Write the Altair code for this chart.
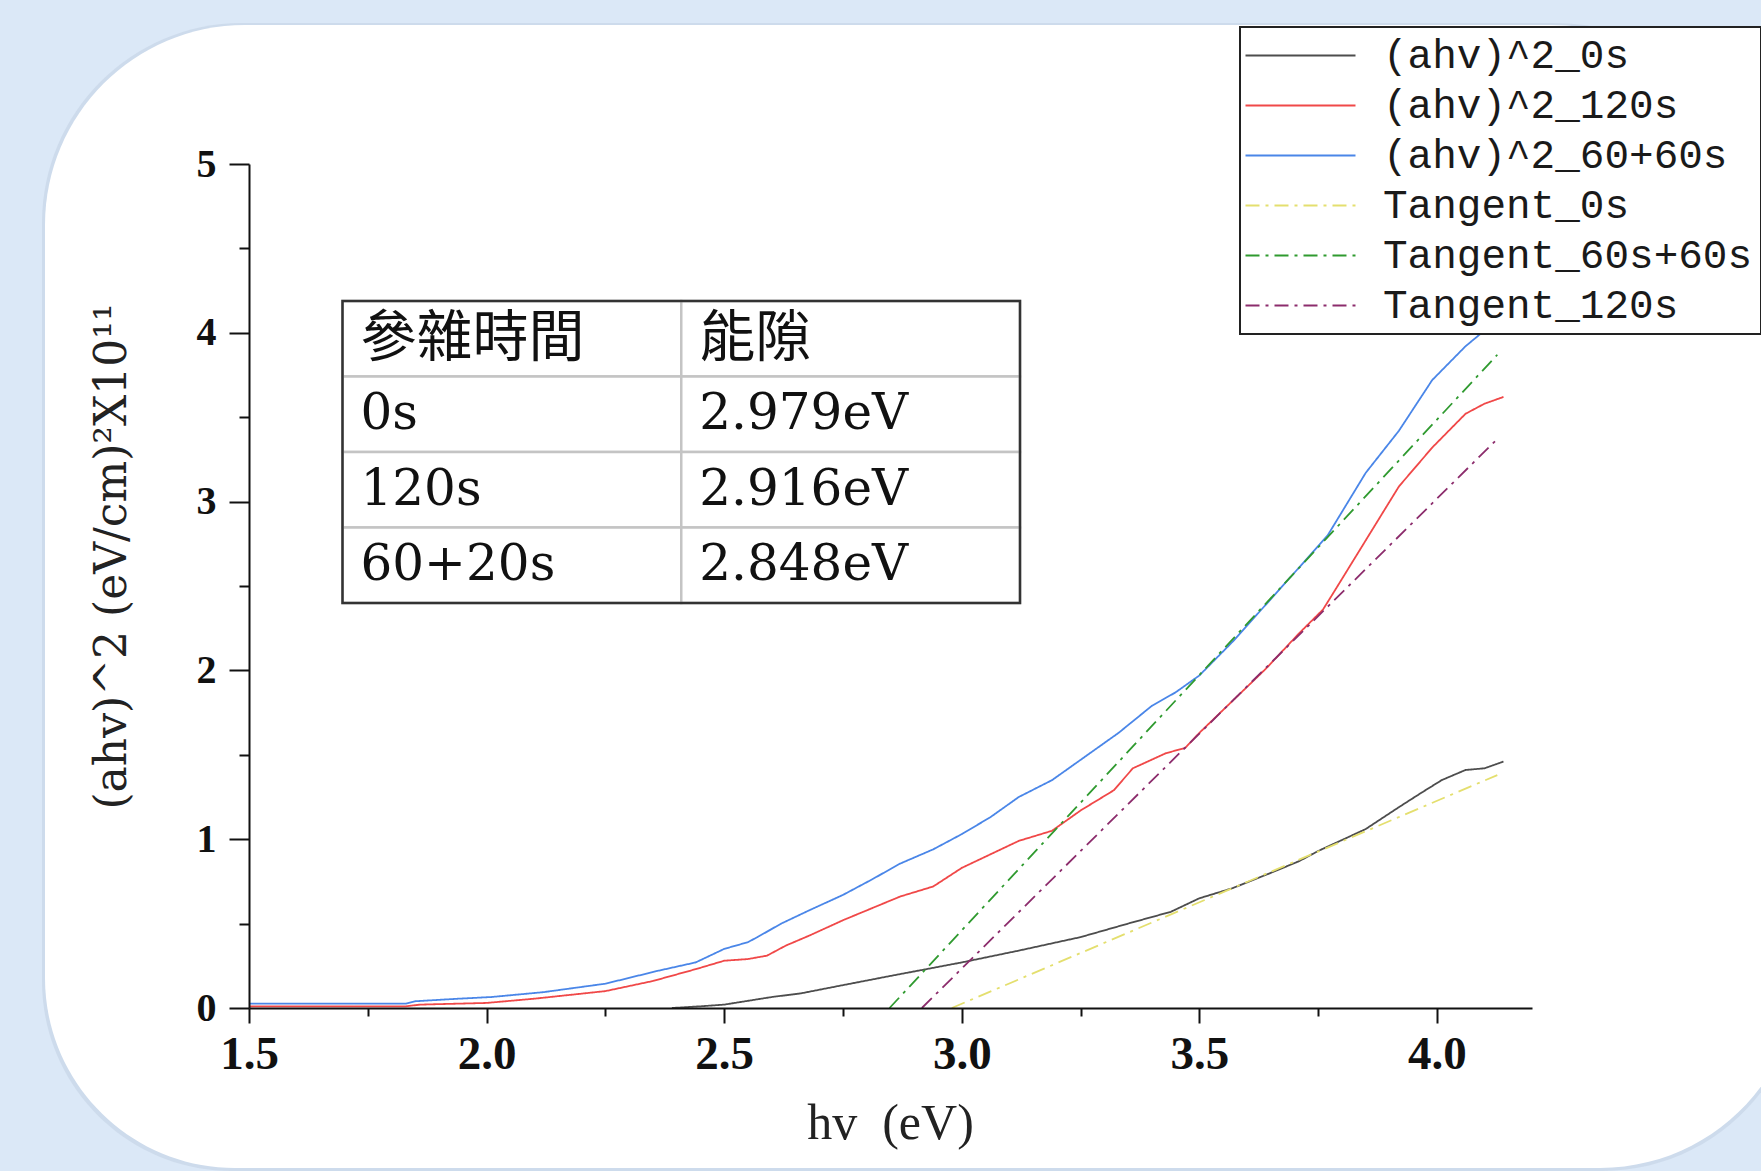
import altair as alt
import pandas as pd

# ---------------- data ----------------
series_names = ["(ahv)^2_0s", "(ahv)^2_120s", "(ahv)^2_60+60s",
                "Tangent_0s", "Tangent_60s+60s", "Tangent_120s"]
series_colors = ["#4d4d4d", "#f04848", "#4a86e8", "#e4df6e", "#2f9a2f", "#8c2c6c"]
series_dashes = [[1, 0], [1, 0], [1, 0], [14, 6, 3, 6], [14, 6, 3, 6], [14, 6, 3, 6]]

hv_0s = [2.39, 2.45, 2.50, 2.60, 2.66, 2.74, 2.85, 3.00, 3.12, 3.25, 3.35, 3.44, 3.50,
         3.57, 3.65, 3.71, 3.75, 3.85, 3.92, 3.97, 4.01, 4.06, 4.10, 4.14]
ahv2_0s = [0.00, 0.01, 0.02, 0.065, 0.086, 0.13, 0.19, 0.27, 0.34, 0.42, 0.50, 0.57, 0.65,
           0.71, 0.80, 0.87, 0.93, 1.06, 1.19, 1.28, 1.35, 1.41, 1.42, 1.46]

hv_120s = [1.50, 1.83, 1.86, 2.00, 2.10, 2.25, 2.35, 2.44, 2.50, 2.55, 2.59, 2.63, 2.68,
           2.75, 2.81, 2.87, 2.94, 3.00, 3.06, 3.12, 3.19, 3.25, 3.32, 3.36, 3.43, 3.47,
           3.50, 3.57, 3.64, 3.71, 3.76, 3.78, 3.85, 3.92, 3.99, 4.06, 4.10, 4.14]
ahv2_120s = [0.01, 0.01, 0.02, 0.03, 0.055, 0.10, 0.16, 0.23, 0.28, 0.29, 0.31, 0.37, 0.43,
             0.52, 0.59, 0.66, 0.72, 0.83, 0.91, 0.99, 1.05, 1.17, 1.29, 1.42, 1.51, 1.54,
             1.63, 1.82, 2.01, 2.22, 2.36, 2.45, 2.77, 3.09, 3.32, 3.52, 3.58, 3.62]

hv_6060s = [1.50, 1.83, 1.85, 1.94, 2.01, 2.12, 2.25, 2.36, 2.44, 2.50, 2.55, 2.57, 2.62,
            2.68, 2.75, 2.81, 2.87, 2.94, 3.00, 3.06, 3.12, 3.19, 3.25, 3.33, 3.40, 3.45,
            3.50, 3.57, 3.64, 3.71, 3.77, 3.85, 3.92, 3.99, 4.06, 4.12, 4.14]
ahv2_6060s = [0.026, 0.026, 0.04, 0.055, 0.065, 0.094, 0.144, 0.22, 0.27, 0.35, 0.39, 0.42,
              0.50, 0.58, 0.67, 0.76, 0.855, 0.94, 1.03, 1.13, 1.25, 1.35, 1.47, 1.63, 1.79,
              1.87, 1.97, 2.17, 2.39, 2.61, 2.80, 3.17, 3.42, 3.72, 3.92, 4.06, 4.08]

tan_0s_x, tan_0s_y = [2.979, 4.127], [0.0, 1.38]
tan_6060_x, tan_6060_y = [2.848, 4.127], [0.0, 3.87]
tan_120_x, tan_120_y = [2.916, 4.123], [0.0, 3.36]

table_header = ["參雜時間", "能隙"]
doping_times = ["0s", "120s", "60+20s"]
band_gaps = ["2.979eV", "2.916eV", "2.848eV"]

x_ticks = [1.5 + 0.25 * i for i in range(11)]
y_ticks = [0.5 * i for i in range(11)]

# ---------------- tables ----------------
xy = [(hv_0s, ahv2_0s), (hv_120s, ahv2_120s), (hv_6060s, ahv2_6060s),
      (tan_0s_x, tan_0s_y), (tan_6060_x, tan_6060_y), (tan_120_x, tan_120_y)]
rows = []
for name, (xs, ys) in zip(series_names, xy):
    for i, (a, b) in enumerate(zip(xs, ys)):
        rows.append({"series": name, "hv": a, "val": b, "order": i})
df = pd.DataFrame(rows)

cells = []
table_rows = [table_header] + [[t, g] for t, g in zip(doping_times, band_gaps)]
for r, row in enumerate(table_rows):
    for c, txt in enumerate(row):
        cells.append({"col": c, "col2": c + 1, "row": r, "row2": r + 1,
                      "ymid": r + 0.5, "text": txt, "header": r == 0})
cells_df = pd.DataFrame(cells)
frame_df = pd.DataFrame([{"col": 0, "col2": len(table_header), "row": 0, "row2": len(table_rows)}])

# ---------------- chart ----------------
FONT_SERIF = "Liberation Serif"

leg = alt.Legend(
    title=None, orient="none", legendX=991, legendY=-137,
    symbolType="M-11,0H11", symbolSize=100, symbolStrokeWidth=2,
    symbolOffset=32, labelOffset=62,
    labelFont="Liberation Mono", labelFontSize=41, labelColor="#1a1a1a", labelLimit=0,
    rowPadding=8, padding=8, strokeColor="#222222", fillColor="white", zindex=2,
)

x_enc = alt.X(
    "hv:Q",
    scale=alt.Scale(domain=[1.5, 4.2], nice=False, zero=False),
    axis=alt.Axis(
        values=x_ticks, grid=False, zindex=1,
        labelExpr="datum.value % 0.5 === 0 ? format(datum.value, '.1f') : ''",
        tickSize={"condition": {"test": "datum.value % 0.5 === 0", "value": 15}, "value": 8},
        tickColor="#111", tickWidth=2, domainColor="#111", domainWidth=2,
        labelFont=FONT_SERIF, labelFontWeight="bold", labelFontSize=47, labelColor="#111",
        labelPadding=8, labelOverlap=False, labelFlush=False,
        title="hv\u00a0\u00a0(eV)", titleFont=FONT_SERIF, titleFontSize=50, titleFontWeight="normal",
        titleColor="#222", titleBaseline="middle", titleAlign="center", titleX=641, titleY=115,
    ),
)
y_enc = alt.Y(
    "val:Q",
    scale=alt.Scale(domain=[0, 5], nice=False),
    axis=alt.Axis(
        values=y_ticks, grid=False, zindex=1,
        labelExpr="datum.value % 1 === 0 ? format(datum.value, 'd') : ''",
        tickSize={"condition": {"test": "datum.value % 1 === 0", "value": 20}, "value": 10},
        tickColor="#111", tickWidth=2, domainColor="#111", domainWidth=2,
        labelFont=FONT_SERIF, labelFontWeight="bold", labelFontSize=40, labelColor="#111",
        labelPadding=13, labelOverlap=False, labelFlush=False,
        title="(ahv)^2 (eV/cm)²X10¹¹", titleFont="DejaVu Serif", titleFontSize=44,
        titleFontWeight="normal", titleColor="#222", titleAngle=270,
        titleBaseline="middle", titleAlign="center", titleX=-137, titleY=392,
    ),
)

lines = alt.Chart(df).mark_line(strokeWidth=1.8).encode(
    x=x_enc, y=y_enc,
    color=alt.Color("series:N", scale=alt.Scale(domain=series_names, range=series_colors), legend=leg),
    strokeDash=alt.StrokeDash("series:N", scale=alt.Scale(domain=series_names, range=series_dashes), legend=leg),
    order="order:Q",
)

# decorative slide panel behind the chart
panel_df = pd.DataFrame({"k": [0]})
shadow = alt.Chart(panel_df).mark_rect(
    color="#b4c4d6", opacity=0.35,
    cornerRadiusTopLeft=200, cornerRadiusTopRight=250,
    cornerRadiusBottomLeft=190, cornerRadiusBottomRight=200,
).encode(x=alt.value(-207), x2=alt.value(1553), y=alt.value(-141), y2=alt.value(1007))
panel = alt.Chart(panel_df).mark_rect(
    color="white",
    cornerRadiusTopLeft=200, cornerRadiusTopRight=250,
    cornerRadiusBottomLeft=190, cornerRadiusBottomRight=200,
).encode(x=alt.value(-204), x2=alt.value(1551), y=alt.value(-139), y2=alt.value(1004))

# inset table with its own scales
tx = alt.X("col:Q", scale=alt.Scale(domain=[0, 2], range=[93.5, 771]), axis=None)
ty = alt.Y("row:Q", scale=alt.Scale(domain=[0, 4], range=[137, 439]), axis=None)
ty_mid = alt.Y("ymid:Q", scale=alt.Scale(domain=[0, 4], range=[137, 439]), axis=None)
cell_rects = alt.Chart(cells_df).mark_rect(fill="white", stroke="#c4c4c4", strokeWidth=2.5).encode(
    x=tx, x2="col2:Q", y=ty, y2="row2:Q")
frame = alt.Chart(frame_df).mark_rect(fill="white", fillOpacity=0, stroke="#333333", strokeWidth=2.5).encode(
    x=tx, x2="col2:Q", y=ty, y2="row2:Q")
head_text = alt.Chart(cells_df).transform_filter("datum.header").mark_text(
    align="left", baseline="middle", dx=18, font="Noto Sans CJK TC", fontSize=56, color="#111"
).encode(x=tx, y=ty_mid, text="text:N")
body_text = alt.Chart(cells_df).transform_filter("!datum.header").mark_text(
    align="left", baseline="middle", dx=18, font="DejaVu Serif", fontSize=50, color="#111"
).encode(x=tx, y=ty_mid, text="text:N")
table = alt.layer(cell_rects, frame, head_text, body_text)

chart = alt.layer(shadow, panel, lines, table).resolve_scale(
    x="independent", y="independent"
).properties(
    width=1283, height=844,
    autosize=alt.AutoSizeParams(type="none"),
    padding={"left": 249, "top": 164, "right": 229, "bottom": 163},
).configure(background="#dbe8f7").configure_view(stroke=None).configure_legend(strokeWidth=2)

chart.save("out.html", embed_options={"renderer": "svg", "actions": False})
